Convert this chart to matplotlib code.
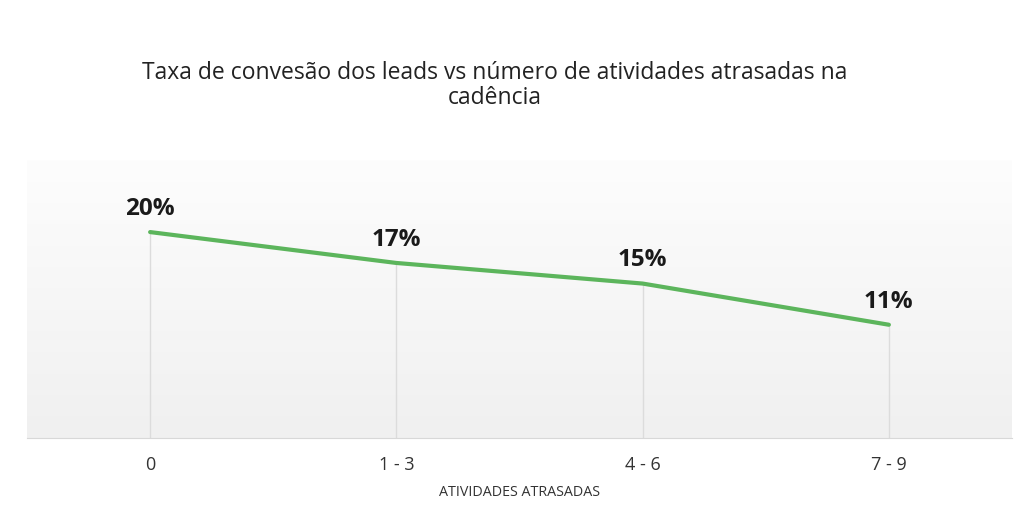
import numpy as np
import matplotlib.pyplot as plt

categorias = ["0", "1 - 3", "4 - 6", "7 - 9"]
taxas = [20, 17, 15, 11]
rotulos = ["20%", "17%", "15%", "11%"]

plt.rcParams['font.family'] = ['Open Sans', 'DejaVu Sans']

fig = plt.figure(figsize=(10.24, 5.2), dpi=100)
ax = fig.add_axes([27/1024, 82/520, 985/1024, 278/520])

x = np.arange(len(categorias))
ax.set_xlim(-0.5, len(categorias) - 0.5)
ax.set_ylim(0, 27)

# fundo em degradê
grad = np.linspace(0, 1, 256).reshape(-1, 1)
ax.imshow(grad, extent=[-0.5, len(categorias) - 0.5, 0, 27], aspect='auto',
          cmap=plt.matplotlib.colors.LinearSegmentedColormap.from_list('g', ['#f0f0f0', '#fdfdfd']),
          origin='lower', zorder=0)

ax.vlines(x, 0, taxas, color='#dcdcdc', lw=1, zorder=1)
ax.plot(x, taxas, color='#5cb55c', lw=3, solid_capstyle='round', zorder=3)

for xi, v, r in zip(x, taxas, rotulos):
    ax.annotate(r, (xi, v), xytext=(0, 8), textcoords='offset points',
                ha='center', va='bottom', fontsize=17.5, fontweight='bold', color='#1a1a1a')

for s in ['top', 'right', 'left']:
    ax.spines[s].set_visible(False)
ax.spines['bottom'].set_color('#d8d8d8')
ax.set_yticks([])
ax.set_xticks(x)
ax.set_xticklabels(categorias, fontsize=13, color='#333333')
ax.tick_params(axis='x', length=0, pad=13)
ax.set_xlabel("ATIVIDADES ATRASADAS", fontsize=10.3, color='#333333', labelpad=8)

fig.text(0.483, 0.836, "Taxa de convesão dos leads vs número de atividades atrasadas na\ncadência",
         ha='center', va='center', fontsize=16.5, color='#222222', linespacing=1.05)

fig.savefig('out.png', dpi=100, facecolor='white')
